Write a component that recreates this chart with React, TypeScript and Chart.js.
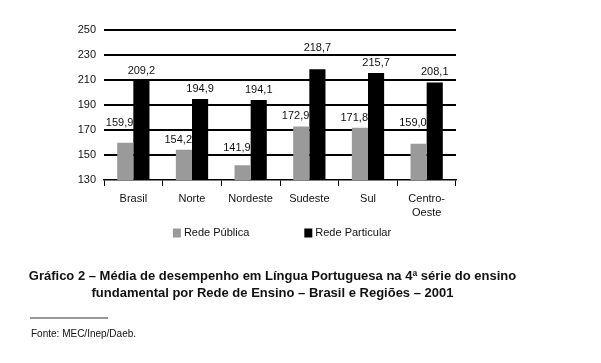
import React, { useEffect, useRef } from 'react';
import { Chart, registerables } from 'chart.js';

Chart.register(...registerables);

const categories: (string | string[])[] = ['Brasil', 'Norte', 'Nordeste', 'Sudeste', 'Sul', ['Centro-', 'Oeste']];
const redePublica = [159.9, 154.2, 141.9, 172.9, 171.8, 159.0];
const redeParticular = [209.2, 194.9, 194.1, 218.7, 215.7, 208.1];
const seriesNames = ['Rede Pública', 'Rede Particular'];
const yMin = 130;
const yMax = 250;
const yStep = 20;
const titleLines = [
  'Gráfico 2 – Média de desempenho em Língua Portuguesa na 4ª série do ensino',
  'fundamental por Rede de Ensino – Brasil e Regiões – 2001',
];
const sourceText = 'Fonte: MEC/Inep/Daeb.';

const FONT = '"Liberation Sans", Arial, Helvetica, sans-serif';
const COLORS = ['#9a9a9a', '#000000'];

const fmt = (v: number) => v.toFixed(1).replace('.', ',');

const labelPlugin = {
  id: 'barLabels',
  afterDatasetsDraw(chart: any) {
    const ctx = chart.ctx;
    const yScale = chart.scales.y;
    const gridYs: number[] = [];
    for (let v = yMin + yStep; v <= yMax; v += yStep) gridYs.push(yScale.getPixelForValue(v));
    gridYs.sort((a, b) => b - a);
    ctx.save();
    ctx.font = `11px ${FONT}`;
    ctx.fillStyle = '#111';
    ctx.textBaseline = 'middle';
    const h = 5.5;
    chart.data.datasets.forEach((ds: any, di: number) => {
      const meta = chart.getDatasetMeta(di);
      meta.data.forEach((bar: any, i: number) => {
        const v = ds.data[i];
        let cy = bar.y - 10;
        for (const gy of gridYs) {
          if (cy - h - 1 < gy && cy + h + 1 > gy) cy = gy - 2 - h;
        }
        if (di === 0) {
          ctx.textAlign = 'right';
          ctx.fillText(fmt(v), bar.x + bar.width / 2, cy);
        } else {
          ctx.textAlign = 'center';
          ctx.fillText(fmt(v), bar.x, cy);
        }
      });
    });
    ctx.restore();
  },
};

const legendPlugin = {
  id: 'customLegend',
  afterDraw(chart: any) {
    const ctx = chart.ctx;
    const area = chart.chartArea;
    ctx.save();
    ctx.font = `11px ${FONT}`;
    ctx.textBaseline = 'middle';
    ctx.textAlign = 'left';
    const box = 8;
    const gap = 3;
    const spacing = 55;
    const items = chart.data.datasets.map((ds: any) => ({
      text: ds.label,
      color: ds.backgroundColor,
      w: box + gap + ctx.measureText(ds.label).width,
    }));
    const total = items.reduce((s: number, it: any) => s + it.w, 0) + spacing * (items.length - 1);
    let x = (area.left + area.right) / 2 + 2 - total / 2;
    const y = area.bottom + 53;
    items.forEach((it: any) => {
      ctx.fillStyle = it.color;
      ctx.fillRect(x, y - 4.5, box, 9);
      ctx.fillStyle = '#111';
      ctx.fillText(it.text, x + box + gap, y);
      x += it.w + spacing;
    });
    ctx.restore();
  },
};

export default function App() {
  const canvasRef = useRef<HTMLCanvasElement | null>(null);

  useEffect(() => {
    const canvas = canvasRef.current;
    if (!canvas) return;
    const chart = new Chart(canvas, {
      type: 'bar',
      data: {
        labels: categories as any,
        datasets: [
          {
            label: seriesNames[0],
            data: redePublica,
            backgroundColor: COLORS[0],
            categoryPercentage: 0.55,
            barPercentage: 1,
          },
          {
            label: seriesNames[1],
            data: redeParticular,
            backgroundColor: COLORS[1],
            categoryPercentage: 0.55,
            barPercentage: 1,
          },
        ],
      },
      options: {
        responsive: false,
        animation: false,
        devicePixelRatio: 1,
        layout: { padding: { left: 64, top: 30, right: 145, bottom: 143 } },
        plugins: {
          legend: { display: false },
          tooltip: { enabled: false },
          title: { display: false },
        },
        scales: {
          x: {
            offset: true,
            afterFit: (s: any) => {
              s.height = 40;
            },
            grid: {
              offset: true,
              drawOnChartArea: false,
              drawTicks: true,
              tickLength: 6,
              color: '#000',
              lineWidth: 1,
            },
            border: { display: true, color: '#000', width: 1.5 },
            ticks: {
              color: '#111',
              font: { family: FONT, size: 11, lineHeight: 1.25 },
              padding: 6,
              maxRotation: 0,
              autoSkip: false,
            },
          },
          y: {
            min: yMin,
            max: yMax,
            afterFit: (s: any) => {
              s.width = 40;
            },
            grid: {
              drawTicks: false,
              lineWidth: 2,
              color: (c: any) => (c.tick && c.tick.value === yMin ? 'rgba(0,0,0,0)' : '#000'),
            },
            border: { display: false },
            ticks: {
              stepSize: yStep,
              padding: 8,
              color: '#111',
              font: { family: FONT, size: 11 },
            },
          },
        },
      },
      plugins: [labelPlugin, legendPlugin],
    });
    return () => chart.destroy();
  }, []);

  return (
    <div
      style={{
        position: 'absolute',
        left: 0,
        top: 0,
        width: 601,
        height: 363,
        background: '#fff',
        fontFamily: FONT,
        color: '#111',
      }}
    >
      <canvas ref={canvasRef} width={601} height={363} style={{ position: 'absolute', left: 0, top: 0 }} />
      <div
        style={{
          position: 'absolute',
          left: 0,
          top: 267,
          width: 545,
          textAlign: 'center',
          fontWeight: 'bold',
          fontSize: 13,
          lineHeight: '17px',
          whiteSpace: 'nowrap',
        }}
      >
        {titleLines.map((t, i) => (
          <div key={i}>{t}</div>
        ))}
      </div>
      <div style={{ position: 'absolute', left: 30, top: 317, width: 78, height: 2, background: '#999' }} />
      <div style={{ position: 'absolute', left: 31, top: 328, fontSize: 10, lineHeight: '12px' }}>{sourceText}</div>
    </div>
  );
}
